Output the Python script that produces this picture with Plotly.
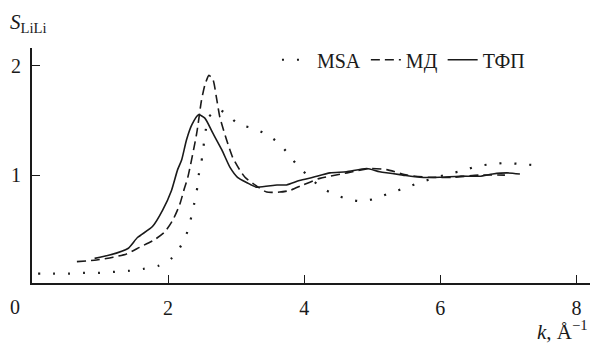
import plotly.graph_objects as go

# MSA (dotted)
msa_k = [0.09, 0.31, 0.53, 0.75, 0.97, 1.19, 1.41, 1.63, 1.85, 2.04, 2.17, 2.27, 2.33, 2.38, 2.42, 2.45,
         2.49, 2.52, 2.55, 2.60, 2.73, 2.88, 3.04, 3.24, 3.45, 3.63, 3.77, 3.91,
         4.08, 4.24, 4.42, 4.64, 4.85, 5.07, 5.27, 5.48, 5.68, 5.90, 6.11, 6.33, 6.53, 6.75, 6.97, 7.19, 7.40]
msa_s = [0.10, 0.10, 0.10, 0.107, 0.107, 0.116, 0.125, 0.143, 0.17, 0.234, 0.335, 0.46, 0.59, 0.73, 0.85, 1.0,
         1.12, 1.26, 1.40, 1.53, 1.60, 1.55, 1.46, 1.43, 1.37, 1.29, 1.19, 1.08,
         0.98, 0.89, 0.83, 0.78, 0.76, 0.79, 0.84, 0.88, 0.93, 0.97, 1.01, 1.04, 1.08, 1.10, 1.11, 1.10, 1.09]

# MD (dashed)
md_k = [0.66, 0.95, 1.19, 1.39, 1.58, 1.80, 1.95, 2.07, 2.17, 2.24, 2.29, 2.42, 2.49, 2.54, 2.60, 2.66,
        2.71, 2.76, 2.86, 2.95, 3.05, 3.13, 3.30, 3.45, 3.64, 3.79, 3.98, 4.23, 4.63, 4.96, 5.21, 5.51,
        5.84, 6.18, 6.58, 6.95]
md_s = [0.21, 0.225, 0.25, 0.28, 0.34, 0.41, 0.48, 0.59, 0.73, 0.88, 0.98, 1.38, 1.68, 1.82, 1.91, 1.87,
        1.71, 1.53, 1.32, 1.16, 1.05, 0.98, 0.90, 0.845, 0.845, 0.86, 0.91, 0.97, 1.02, 1.06, 1.05, 1.00,
        0.98, 0.98, 1.00, 1.00]

# TFP (solid)
tfp_k = [0.92, 1.14, 1.41, 1.55, 1.77, 1.92, 2.05, 2.14, 2.20, 2.27, 2.35, 2.45, 2.54, 2.66, 2.79, 2.91,
         3.02, 3.16, 3.30, 3.60, 3.74, 3.93, 4.13, 4.38, 4.62, 4.92, 5.11, 5.45, 5.70, 5.99, 6.28, 6.58,
         6.77, 6.98, 7.17]
tfp_s = [0.24, 0.27, 0.33, 0.43, 0.53, 0.68, 0.86, 1.05, 1.14, 1.32, 1.46, 1.55, 1.52, 1.38, 1.23, 1.07,
         0.98, 0.93, 0.89, 0.91, 0.91, 0.95, 0.98, 1.02, 1.03, 1.06, 1.03, 1.00, 0.98, 0.98, 0.99, 0.99,
         1.01, 1.02, 1.01]

x_ticks = [2, 4, 6, 8]
y_ticks = [1, 2]
y_tick_labels = ["1", "2"]

FONT = "'Liberation Serif', 'Times New Roman', Times, serif"
BLACK = "#1a1a1a"

fig = go.Figure()
fig.add_trace(go.Scatter(x=msa_k, y=msa_s, name="MSA", mode="lines",
                         line=dict(color=BLACK, width=2.2, dash="2px,13px", shape="spline", smoothing=0.6)))
fig.add_trace(go.Scatter(x=md_k, y=md_s, name="МД", mode="lines",
                         line=dict(color=BLACK, width=1.6, dash="9px,5px", shape="spline", smoothing=0.6)))
fig.add_trace(go.Scatter(x=tfp_k, y=tfp_s, name="ТФП", mode="lines",
                         line=dict(color=BLACK, width=1.6, shape="spline", smoothing=0.6)))

annotations = [
    dict(text="0", xref="paper", yref="paper", x=-0.0305, y=-0.102, xanchor="center", yanchor="middle",
         showarrow=False, font=dict(family=FONT, size=20)),
    dict(text="<i>S</i><sub>LiLi</sub>", xref="paper", yref="paper", x=-0.043, y=1.17,
         xanchor="left", yanchor="top", showarrow=False, font=dict(family=FONT, size=21)),
    dict(text="<i>k</i>, Å<sup>−1</sup>", xref="paper", yref="paper", x=1.0, y=-0.27,
         xanchor="right", yanchor="bottom", showarrow=False, font=dict(family=FONT, size=21)),
]
for yv, lab in zip(y_ticks, y_tick_labels):
    annotations.append(dict(text=lab, xref="paper", yref="y", x=-0.016, y=yv, xanchor="right",
                            yanchor="middle", showarrow=False, font=dict(family=FONT, size=20)))

fig.update_layout(
    width=590, height=346,
    margin=dict(l=32, r=0, t=48, b=63),
    paper_bgcolor="white", plot_bgcolor="white",
    font=dict(family=FONT, size=19, color=BLACK),
    showlegend=True,
    legend=dict(orientation="h", x=0.439, y=0.95, xanchor="left", yanchor="middle",
                bgcolor="rgba(0,0,0,0)", font=dict(family=FONT, size=20), tracegroupgap=0, itemwidth=30),
    xaxis=dict(range=[0, 8.2], tickvals=x_ticks, ticks="inside", ticklen=8, tickcolor=BLACK,
               showline=True, linecolor=BLACK, linewidth=1.5, showgrid=False, zeroline=False,
               tickfont=dict(family=FONT, size=20), ticklabelstandoff=6),
    yaxis=dict(range=[0.015, 2.16], tickvals=y_ticks, ticks="inside", ticklen=8, tickcolor=BLACK,
               showline=True, linecolor=BLACK, linewidth=1.5, showgrid=False, zeroline=False,
               showticklabels=False),
    annotations=annotations,
)

fig.write_html("out.html", config={"displayModeBar": False},
               post_script="document.body.style.margin='0';document.body.style.overflow='hidden';")
